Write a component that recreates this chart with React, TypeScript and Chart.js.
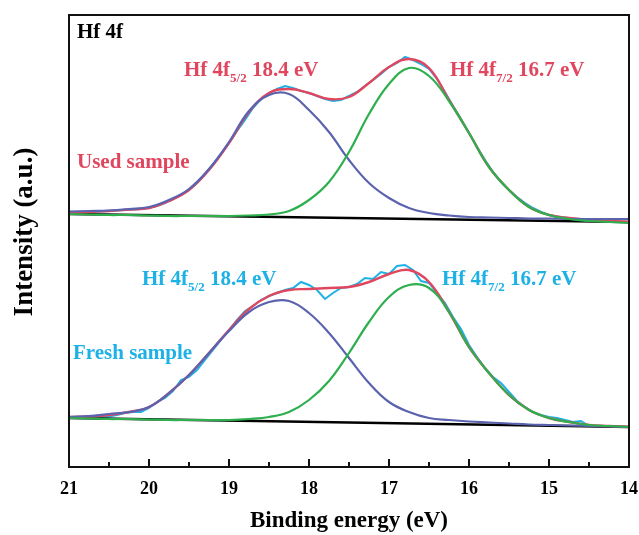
import React, { useEffect, useRef } from 'react';
import { Chart, registerables } from 'chart.js';

Chart.register(...registerables);

// Binding energy (eV) for fitted curves
const energyFit = [21, 20.75, 20.5, 20.25, 20, 19.75, 19.5, 19.25, 19, 18.75, 18.5, 18.25, 18, 17.75, 17.5, 17.25, 17, 16.75, 16.5, 16.25, 16, 15.75, 15.5, 15.25, 15, 14.75, 14.5, 14.25, 14];
// Binding energy (eV) for raw spectra
const energyRaw = [21.0, 20.9, 20.8, 20.7, 20.6, 20.5, 20.4, 20.3, 20.2, 20.1, 20.0, 19.9, 19.8, 19.7, 19.6, 19.5, 19.4, 19.3, 19.2, 19.1, 19.0, 18.9, 18.8, 18.7, 18.6, 18.5, 18.4, 18.3, 18.2, 18.1, 18.0, 17.9, 17.8, 17.7, 17.6, 17.5, 17.4, 17.3, 17.2, 17.1, 17.0, 16.9, 16.8, 16.7, 16.6, 16.5, 16.4, 16.3, 16.2, 16.1, 16.0, 15.9, 15.8, 15.7, 15.6, 15.5, 15.4, 15.3, 15.2, 15.1, 15.0, 14.9, 14.8, 14.7, 14.6, 14.5, 14.4, 14.3, 14.2, 14.1, 14.0];
const energyBase = [21, 14];

// Used sample (offset upward, a.u.)
const usedRaw = [254, 254, 255, 255, 255.5, 256, 256.5, 257, 257.5, 258, 259, 261, 264, 268, 272, 277, 284, 293, 303, 313, 324, 336, 347, 359, 368, 374, 378, 381, 379, 376, 374, 371, 368, 366, 367, 371, 375, 381, 387, 393, 400, 404, 410, 407, 403, 398, 388, 375, 361, 348, 334, 320, 307, 295, 285, 277, 270, 264, 259, 255, 252, 250.5, 249.5, 248.5, 248, 247, 246.5, 246, 245.5, 245, 245];
const usedEnvelope = [254, 255, 256, 257.5, 259, 266, 277, 297, 324, 355, 374, 378, 374, 368, 370, 384, 400, 408, 399, 367, 334, 300, 277, 260, 252, 249, 247, 246, 245];
const usedPeak52 = [255.5, 256, 256.5, 258, 260, 267, 278, 298, 325, 356, 372, 373, 357, 335, 307, 284, 269, 259, 254, 251.5, 250, 249.5, 249, 248.5, 248.5, 248, 248, 248, 248];
const usedPeak72 = [253, 252.5, 252, 252, 251.5, 251, 251, 251, 251, 251.5, 252.5, 256, 267, 285, 315, 353, 383, 399, 391, 366, 334, 300, 277, 260, 252, 248, 246, 245, 244];
const usedBackground = [253, 245];

// Fresh sample
const freshRaw = [50, 50, 50, 50, 50, 50.5, 52, 54, 55, 55, 59, 65, 69, 76, 87, 90, 97, 107, 117, 127, 137, 147, 156, 161, 167, 171, 174, 177, 179, 185, 182, 177, 168, 174, 179, 180, 183, 189, 188, 195, 193, 201, 202, 197, 186, 184, 174, 164, 150, 138, 122, 110, 99, 90, 84, 75, 66, 60, 55, 52, 50, 49, 47, 45, 46, 41, 41, 41, 40, 40, 40];
const freshEnvelope = [50, 50.5, 52, 55, 60, 74, 92, 114, 137, 158, 171, 177, 178, 179, 180, 185, 193, 197, 185, 155, 120, 94, 72, 57, 49, 45, 42, 41, 40];
const freshPeak52 = [50, 51, 53, 55, 60, 74, 92, 114, 136, 155, 165, 166, 154, 134, 109, 84, 65, 55, 49, 47, 45.5, 44.5, 43.5, 42.5, 42, 41.5, 41, 40.5, 40];
const freshPeak72 = [49, 48.5, 48, 48, 47.5, 47, 47, 47, 47, 48, 50, 55, 67, 86, 114, 145, 170, 182, 179, 155, 120, 94, 72, 57, 49, 45, 42, 41, 40];
const freshBackground = [49, 40];

const xTicks = [21, 20, 19, 18, 17, 16, 15, 14];

const RED = '#E0475E';
const CYAN = '#1DB1E6';
const BLUE = '#5B63AE';
const GREEN = '#2EAF4E';
const FONT = '"Liberation Serif", "Times New Roman", serif';

const zip = (xs: number[], ys: number[]) => xs.map((x, i) => ({ x, y: ys[i] }));

function drawSubLabel(ctx: CanvasRenderingContext2D, x: number, y: number, color: string, pre: string, sub: string, post: string, size: number) {
  ctx.fillStyle = color;
  ctx.textBaseline = 'alphabetic';
  ctx.textAlign = 'left';
  ctx.font = `bold ${size}px ${FONT}`;
  ctx.fillText(pre, x, y);
  const w1 = ctx.measureText(pre).width;
  const subSize = Math.round(size * 0.62);
  ctx.font = `bold ${subSize}px ${FONT}`;
  ctx.fillText(sub, x + w1, y + size * 0.28);
  const w2 = ctx.measureText(sub).width;
  ctx.font = `bold ${size}px ${FONT}`;
  ctx.fillText(post, x + w1 + w2, y);
}

const decorPlugin = {
  id: 'decor',
  afterDraw(chart: any) {
    const { ctx, chartArea } = chart;
    const { left, top, right, bottom } = chartArea;
    const xs = chart.scales.x;
    ctx.save();
    ctx.strokeStyle = '#111';
    ctx.lineWidth = 2;
    ctx.strokeRect(left, top, right - left, bottom - top);
    ctx.beginPath();
    for (let e = 14; e <= 21.001; e += 0.5) {
      const px = Math.round(xs.getPixelForValue(e));
      const len = Math.abs(e - Math.round(e)) < 0.01 ? 8 : 5;
      ctx.moveTo(px, bottom);
      ctx.lineTo(px, bottom - len);
    }
    ctx.stroke();

    // y-axis title
    ctx.save();
    ctx.translate(25, 232);
    ctx.rotate(-Math.PI / 2);
    ctx.fillStyle = '#000';
    ctx.font = `bold 27px ${FONT}`;
    ctx.textAlign = 'center';
    ctx.textBaseline = 'middle';
    ctx.fillText('Intensity (a.u.)', 0, 0);
    ctx.restore();

    const S = 21;
    ctx.fillStyle = '#000';
    ctx.font = `bold ${S}px ${FONT}`;
    ctx.textAlign = 'left';
    ctx.textBaseline = 'alphabetic';
    ctx.fillText('Hf 4f', 77, 38);

    drawSubLabel(ctx, 184, 76, RED, 'Hf 4f', '5/2', ' 18.4 eV', S);
    drawSubLabel(ctx, 450, 76, RED, 'Hf 4f', '7/2', ' 16.7 eV', S);
    ctx.fillStyle = RED;
    ctx.font = `bold ${S}px ${FONT}`;
    ctx.fillText('Used sample', 77, 168);

    drawSubLabel(ctx, 142, 285, CYAN, 'Hf 4f', '5/2', ' 18.4 eV', S);
    drawSubLabel(ctx, 442, 285, CYAN, 'Hf 4f', '7/2', ' 16.7 eV', S);
    ctx.fillStyle = CYAN;
    ctx.font = `bold ${S}px ${FONT}`;
    ctx.fillText('Fresh sample', 73, 359);
    ctx.restore();
  },
};

export default function App() {
  const ref = useRef<HTMLCanvasElement | null>(null);
  useEffect(() => {
    if (!ref.current) return;
    const line = (label: string, data: any[], color: string, width: number, smooth: boolean) => ({
      label,
      data,
      borderColor: color,
      backgroundColor: color,
      borderWidth: width,
      pointRadius: 0,
      fill: false,
      tension: smooth ? 0.4 : 0,
      cubicInterpolationMode: 'default',
    });
    const chart = new Chart(ref.current, {
      type: 'line',
      data: {
        datasets: [
          line('Used 4f7/2', zip(energyFit, usedPeak72), GREEN, 2.2, true),
          line('Used 4f5/2', zip(energyFit, usedPeak52), BLUE, 2.2, true),
          line('Used envelope', zip(energyFit, usedEnvelope), RED, 2.4, true),
          line('Used background', zip(energyBase, usedBackground), '#000', 2.4, false),
          line('Used raw', zip(energyRaw, usedRaw), CYAN, 2, false),
          line('Fresh 4f7/2', zip(energyFit, freshPeak72), GREEN, 2.2, true),
          line('Fresh 4f5/2', zip(energyFit, freshPeak52), BLUE, 2.2, true),
          line('Fresh envelope', zip(energyFit, freshEnvelope), RED, 2.4, true),
          line('Fresh background', zip(energyBase, freshBackground), '#000', 2.4, false),
          line('Fresh raw', zip(energyRaw, freshRaw), CYAN, 2, false),
        ] as any,
      },
      options: {
        responsive: false,
        animation: false,
        devicePixelRatio: 1,
        layout: { padding: { left: 0, right: 10, top: 15, bottom: 0 } },
        plugins: { legend: { display: false }, tooltip: { enabled: false } },
        scales: {
          x: {
            type: 'linear',
            reverse: true,
            min: 14,
            max: 21,
            afterFit: (s: any) => { s.height = 68; s.paddingLeft = 0; s.paddingRight = 0; },
            afterBuildTicks: (s: any) => { s.ticks = xTicks.map((v) => ({ value: v })); },
            grid: { display: false, drawTicks: false },
            border: { display: false },
            ticks: {
              autoSkip: false,
              maxRotation: 0,
              padding: 12,
              color: '#000',
              font: { family: FONT, size: 18, weight: 'bold' },
              callback: (v: any) => String(v),
            },
            title: {
              display: true,
              text: 'Binding energy (eV)',
              color: '#000',
              font: { family: FONT, size: 23, weight: 'bold' },
              padding: { top: 0, bottom: 0 },
            },
          },
          y: {
            min: 0,
            max: 452,
            afterFit: (s: any) => { s.width = 69; s.paddingTop = 0; s.paddingBottom = 0; },
            grid: { display: false, drawTicks: false },
            border: { display: false },
            ticks: { display: false },
            title: { display: false },
          },
        },
      } as any,
      plugins: [decorPlugin],
    });
    return () => chart.destroy();
  }, []);
  return (
    <div style={{ position: 'fixed', left: 0, top: 0, width: 639, height: 535, background: '#fff' }}>
      <canvas ref={ref} width={639} height={535} style={{ display: 'block' }} />
    </div>
  );
}
